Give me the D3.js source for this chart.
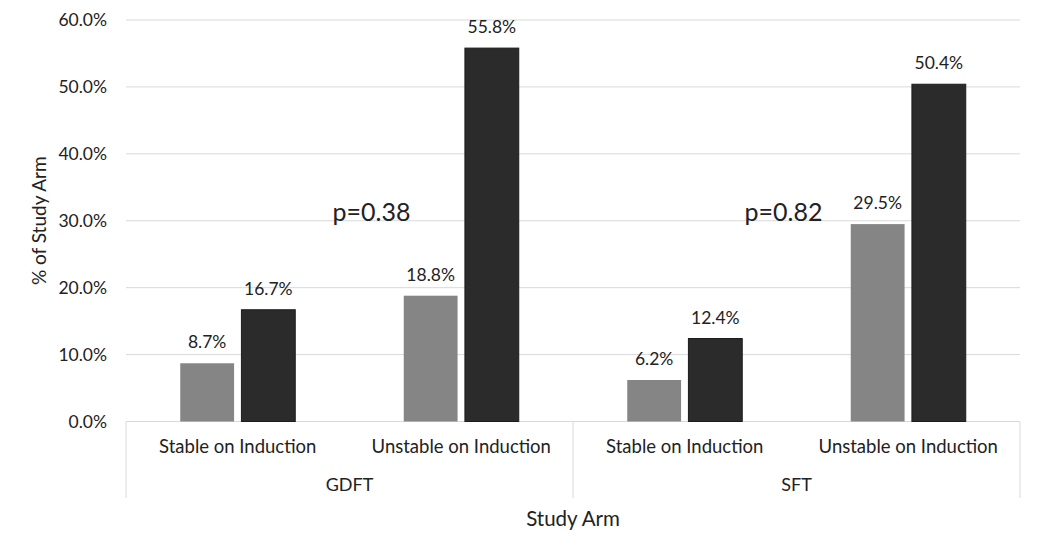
<!DOCTYPE html>
<html><head><meta charset="utf-8">
<script src="https://cdn.jsdelivr.net/npm/d3@7"></script>
<style>body{margin:0;background:#fff}svg{display:block}text{font-family:Lato,"Open Sans",sans-serif;fill:#222}</style>
</head><body><svg id="c" width="1044" height="553"></svg>
<script>
const groups = ["GDFT", "SFT"];
const categories = ["Stable on Induction", "Unstable on Induction"];
const seriesNames = ["Series A", "Series B"];
const seriesA = [8.7, 18.8, 6.2, 29.5];   // light gray bars
const seriesB = [16.7, 55.8, 12.4, 50.4]; // dark bars
const yTicks = [0, 10, 20, 30, 40, 50, 60];
const pValues = ["p=0.38", "p=0.82"];

const svg = d3.select("#c");
const mLeft = 126, mRight = 1020, mTop = 20, mBottom = 421.5;
const slots = [];
groups.forEach(g => categories.forEach(c => slots.push(g + "|" + c)));

const x = d3.scaleBand().domain(slots).range([mLeft, mRight]);
const xg = d3.scaleBand().domain(groups).range([mLeft, mRight]);
const y = d3.scaleLinear().domain([0, 60]).range([mBottom, mTop]);
const inner = d3.scaleBand().domain(seriesNames).range([0, 115]).paddingInner(0.12);
const colors = {"Series A": "#858585", "Series B": "#2b2b2b"};
const strokes = {"Series A": "none", "Series B": "#1c1c1c"};

// gridlines
svg.append("g").selectAll("line").data(yTicks).join("line")
  .attr("x1", mLeft).attr("x2", mRight)
  .attr("y1", d => y(d)).attr("y2", d => y(d))
  .attr("stroke", "#d9d9d9").attr("stroke-width", 1);

// y axis
const yAxis = d3.axisLeft(y).tickValues(yTicks).tickSize(0).tickPadding(19)
  .tickFormat(d => d.toFixed(1) + "%");
const ya = svg.append("g").attr("transform", `translate(${mLeft},0)`).call(yAxis);
ya.select(".domain").remove();
ya.selectAll("text").style("font-family", "Lato, sans-serif").style("font-size", "17.5px").attr("fill", "#333");

// bars
const data = [];
slots.forEach((s, i) => {
  data.push({slot: s, series: "Series A", v: seriesA[i]});
  data.push({slot: s, series: "Series B", v: seriesB[i]});
});
const gx = s => x(s) + (x.bandwidth() - 115) / 2;
svg.append("g").selectAll("rect").data(data).join("rect")
  .attr("x", d => gx(d.slot) + inner(d.series))
  .attr("width", inner.bandwidth())
  .attr("y", d => y(d.v))
  .attr("height", d => y(0) - y(d.v))
  .attr("fill", d => colors[d.series])
  .attr("stroke", d => strokes[d.series]).attr("stroke-width", 1);

// value labels
svg.append("g").selectAll("text").data(data).join("text")
  .attr("x", d => gx(d.slot) + inner(d.series) + inner.bandwidth() / 2)
  .attr("y", d => y(d.v) - 15)
  .attr("text-anchor", "middle")
  .style("font-size", "17.5px")
  .text(d => d.v.toFixed(1) + "%");

// multi-level x axis
const xa = d3.axisBottom(x).tickSize(0).tickPadding(18).tickFormat(s => s.split("|")[1]);
const xag = svg.append("g").attr("transform", `translate(0,${mBottom})`).call(xa);
xag.select(".domain").remove();
xag.selectAll("text").style("font-family", "Lato, sans-serif").style("font-size", "18.5px").attr("fill", "#222");

// group separators
const seps = [mLeft].concat(groups.map(g => xg(g) + xg.bandwidth()));
svg.append("g").selectAll("line").data(seps).join("line")
  .attr("x1", d => d).attr("x2", d => d)
  .attr("y1", mBottom).attr("y2", 498)
  .attr("stroke", "#d9d9d9");

svg.append("g").selectAll("text").data(groups).join("text")
  .attr("x", g => xg(g) + xg.bandwidth() / 2)
  .attr("y", 491)
  .attr("text-anchor", "middle")
  .style("font-size", "18px")
  .text(g => g);

// axis titles
svg.append("text").attr("x", (mLeft + mRight) / 2).attr("y", 526)
  .attr("text-anchor", "middle").style("font-size", "20.5px").text("Study Arm");
svg.append("text").attr("transform", `translate(46,${(mTop + mBottom) / 2}) rotate(-90)`)
  .attr("text-anchor", "middle").style("font-size", "19px").text("% of Study Arm");

// p-value annotations (placed near the boundary between the two categories of each arm)
const pOffset = [22, -13];
svg.append("g").selectAll("text").data(pValues).join("text")
  .attr("x", (d, i) => x(groups[i] + "|" + categories[1]) + pOffset[i])
  .attr("y", y(30))
  .attr("text-anchor", "middle")
  .style("font-size", "25px")
  .text(d => d);
</script></body></html>
